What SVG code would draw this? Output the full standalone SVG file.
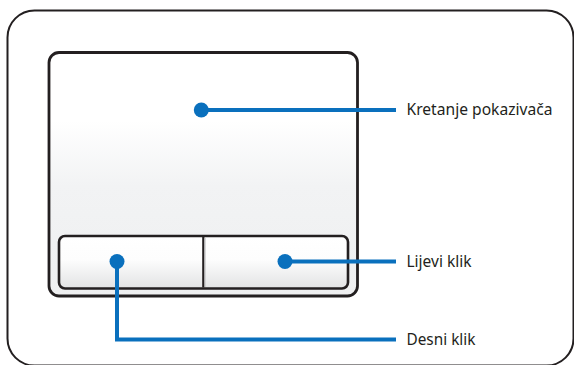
<svg xmlns="http://www.w3.org/2000/svg" width="574" height="365" viewBox="0 0 574 365">
<defs>
<linearGradient id="padGrad" x1="0" y1="0" x2="0" y2="1">
<stop offset="0" stop-color="#ffffff"/>
<stop offset="0.28" stop-color="#ffffff"/>
<stop offset="0.55" stop-color="#f2f3f4"/>
<stop offset="1" stop-color="#eeeff0"/>
</linearGradient>
<linearGradient id="btnGrad" x1="0" y1="0" x2="0" y2="1">
<stop offset="0" stop-color="#ffffff"/>
<stop offset="0.45" stop-color="#fdfdfd"/>
<stop offset="1" stop-color="#e2e3e4"/>
</linearGradient>
</defs>
<style>
.frame{fill:#ffffff;stroke:#231f20;stroke-width:2}
.pad{fill:url(#padGrad);stroke:#231f20;stroke-width:2.8}
.btn{fill:url(#btnGrad);stroke:#231f20;stroke-width:2.6}
.div{stroke:#231f20;stroke-width:2.2}
.conn{fill:none;stroke:#0a70bd;stroke-width:4}
.dot{fill:#0a70bd}
.lbl{font-family:"Noto Sans","Open Sans","DejaVu Sans",sans-serif;font-size:16px;fill:#231f20}
</style>
<rect width="574" height="365" fill="#ffffff"/>
<rect class="frame" x="7.5" y="10.5" width="566" height="355" rx="27" ry="27"/>
<g id="touchpad">
<rect class="pad" x="49" y="52.5" width="308.5" height="243.5" rx="10" ry="10"/>
</g>
<g id="buttons">
<rect class="btn" x="59" y="236" width="289" height="52.5" rx="6" ry="6"/>
<line class="div" x1="203.3" y1="237" x2="203.3" y2="287.5"/>
<line x1="205.2" y1="238" x2="205.2" y2="287" stroke="#c8c9ca" stroke-width="1"/>
</g>
<g id="connectors">
<line class="conn" x1="201.3" y1="110" x2="396" y2="110"/>
<line class="conn" x1="285" y1="261.5" x2="396" y2="261.5"/>
<polyline class="conn" points="117,261.5 117,339.5 396,339.5"/>
<circle class="dot" cx="201.3" cy="110" r="7.5"/>
<circle class="dot" cx="285" cy="261.5" r="7.5"/>
<circle class="dot" cx="117" cy="261.5" r="7.5"/>
</g>
<g id="label-kretanje">
<text class="lbl" x="406.5" y="114.5" textLength="146" lengthAdjust="spacingAndGlyphs">Kretanje pokazivača</text>
</g>
<g id="label-lijevi">
<text class="lbl" x="406.5" y="266.5" textLength="65" lengthAdjust="spacingAndGlyphs">Lijevi klik</text>
</g>
<g id="label-desni">
<text class="lbl" x="406.5" y="345" textLength="69" lengthAdjust="spacingAndGlyphs">Desni klik</text>
</g>
</svg>
